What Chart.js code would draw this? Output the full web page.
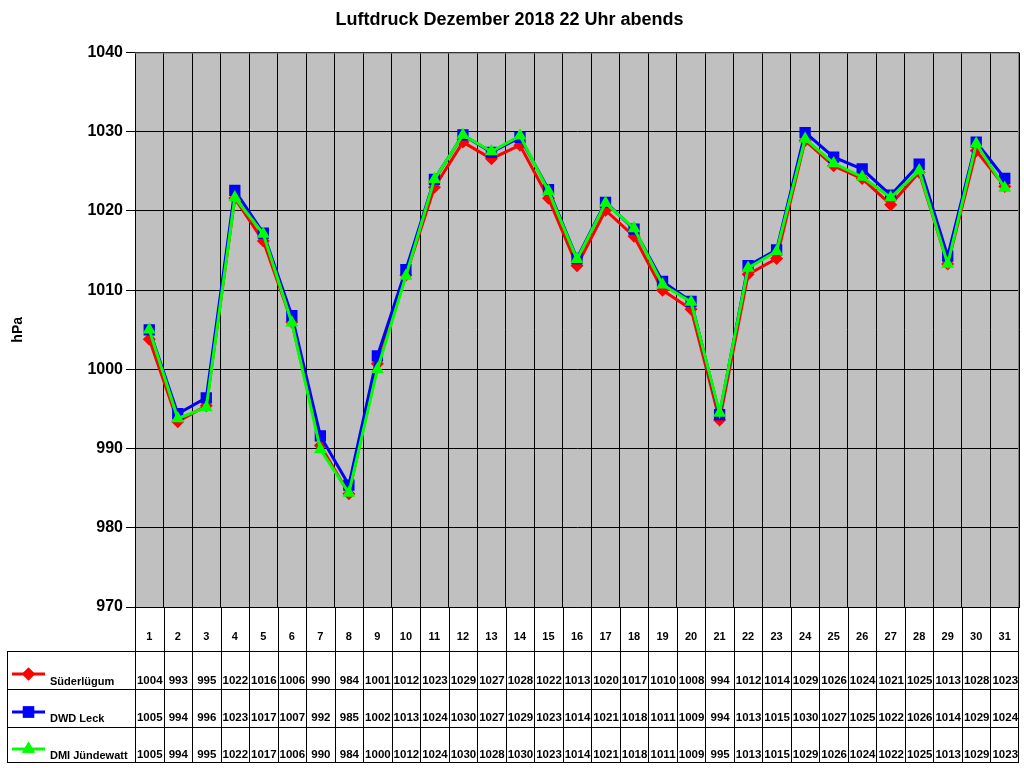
<!DOCTYPE html>
<html><head><meta charset="utf-8">
<script src="https://cdn.jsdelivr.net/npm/chart.js@4/dist/chart.umd.min.js"></script>
<style>html,body{margin:0;padding:0;background:#fff;overflow:hidden}#wrap{width:1024px;height:768px}canvas{display:block}</style>
</head><body><div id="wrap"><canvas id="c" width="1024" height="768"></canvas></div>
<script>
const days = ['1','2','3','4','5','6','7','8','9','10','11','12','13','14','15','16','17','18','19','20','21','22','23','24','25','26','27','28','29','30','31'];
const yTicks = [970,980,990,1000,1010,1020,1030,1040];
const seriesNames = ['Süderlügum','DWD Leck','DMI Jündewatt'];
// plotted values
const suederluegum = [1003.8,993.4,995.4,1021.6,1016.2,1006.0,990.4,984.3,1000.7,1011.9,1023.0,1028.7,1026.6,1028.3,1021.6,1013.1,1020.1,1016.8,1010.0,1007.6,993.6,1012.0,1014.0,1028.9,1025.7,1024.1,1020.8,1024.9,1013.3,1027.6,1023.1];
const dwdLeck = [1005.0,994.4,996.4,1022.6,1017.2,1006.8,991.6,985.4,1001.7,1012.6,1024.0,1029.6,1027.4,1029.3,1022.7,1014.0,1021.1,1017.7,1011.1,1008.6,994.3,1013.1,1015.1,1029.9,1026.8,1025.3,1022.0,1025.9,1014.3,1028.7,1024.1];
const dmiJuendewatt = [1005.0,993.8,995.2,1021.7,1017.1,1005.9,989.9,984.4,1000.0,1011.8,1024.0,1029.6,1027.5,1029.5,1022.5,1013.9,1021.0,1017.8,1010.7,1008.5,994.5,1012.8,1014.9,1029.1,1026.0,1024.3,1021.7,1025.1,1013.3,1028.5,1022.9];
// values printed in the data table
const suederluegumTable = [1004,993,995,1022,1016,1006,990,984,1001,1012,1023,1029,1027,1028,1022,1013,1020,1017,1010,1008,994,1012,1014,1029,1026,1024,1021,1025,1013,1028,1023];
const dwdLeckTable = [1005,994,996,1023,1017,1007,992,985,1002,1013,1024,1030,1027,1029,1023,1014,1021,1018,1011,1009,994,1013,1015,1030,1027,1025,1022,1026,1014,1029,1024];
const dmiJuendewattTable = [1005,994,995,1022,1017,1006,990,984,1000,1012,1024,1030,1028,1030,1023,1014,1021,1018,1011,1009,995,1013,1015,1029,1026,1024,1022,1025,1013,1029,1023];

const FONT = '"Liberation Sans", Arial, sans-serif';
const colors = ['#FF0000','#0000FF','#00FF00'];
const styles = ['rectRot','rect','triangle'];
const radii = [6.5,8,7.5];
const tableVals = [suederluegumTable, dwdLeckTable, dmiJuendewattTable];

const TABLE = {headerBottom:651, rows:[689,727,762], left:7, rowText:[681,718,755], legendY:[674,712,749], headerText:637};

const bgPlugin = {
  id:'bg',
  beforeDraw(chart){
    const {ctx, chartArea:a} = chart;
    ctx.save(); ctx.fillStyle='#C0C0C0';
    ctx.fillRect(a.left,a.top,a.right-a.left,a.bottom-a.top);
    ctx.restore();
  },
  afterDraw(chart){
    const {ctx, chartArea:a} = chart;
    const xs = chart.scales.x;
    ctx.save();
    ctx.strokeStyle='#808080'; ctx.lineWidth=1;
    ctx.beginPath(); ctx.moveTo(a.left,a.top+0.5); ctx.lineTo(a.right-0.5,a.top+0.5); ctx.lineTo(a.right-0.5,a.bottom); ctx.stroke();
    ctx.strokeStyle='#000'; ctx.lineWidth=1;
    const n = days.length;
    const w = (xs.getPixelForValue(1)-xs.getPixelForValue(0));
    const right = Math.round(a.right)-1;
    ctx.beginPath();
    for(let i=0;i<n;i++){
      const bx = Math.round(xs.getPixelForValue(0) - w/2 + i*w)+0.5;
      ctx.moveTo(bx, a.bottom); ctx.lineTo(bx, TABLE.rows[2]);
    }
    ctx.moveTo(right+0.5, a.bottom); ctx.lineTo(right+0.5, TABLE.rows[2]);
    ctx.moveTo(TABLE.left+0.5, TABLE.headerBottom); ctx.lineTo(TABLE.left+0.5, TABLE.rows[2]);
    [TABLE.headerBottom].concat(TABLE.rows).forEach(y=>{ctx.moveTo(TABLE.left, y+0.5); ctx.lineTo(right+1, y+0.5);});
    ctx.stroke();
    ctx.fillStyle='#000'; ctx.textAlign='center'; ctx.textBaseline='middle';
    ctx.font='bold 11px '+FONT;
    days.forEach((d,i)=>ctx.fillText(d, xs.getPixelForValue(i), TABLE.headerText));
    ctx.font='bold 11.5px '+FONT;
    tableVals.forEach((vals,r)=>{
      vals.forEach((v,i)=>ctx.fillText(String(v), xs.getPixelForValue(i)+0.5, TABLE.rowText[r]));
    });
    seriesNames.forEach((name,r)=>{
      const ly = TABLE.legendY[r];
      ctx.strokeStyle=colors[r]; ctx.lineWidth=3;
      ctx.beginPath(); ctx.moveTo(12,ly); ctx.lineTo(45,ly); ctx.stroke();
      ctx.fillStyle=colors[r];
      Chart.helpers.drawPoint(ctx,{pointStyle:styles[r], radius:radii[r], rotation:0, borderWidth:0}, 28.5, ly);
      ctx.fill();
      ctx.fillStyle='#000'; ctx.textAlign='left'; ctx.font='bold 11px '+FONT;
      ctx.fillText(name, 50, TABLE.rowText[r]+1);
    });
    ctx.restore();
  }
};

const data = [suederluegum, dwdLeck, dmiJuendewatt];
new Chart(document.getElementById('c'), {
  type:'line',
  data:{
    labels: days,
    datasets: data.map((d,i)=>({
      label: seriesNames[i], data: d,
      borderColor: colors[i], backgroundColor: colors[i],
      pointBackgroundColor: colors[i], pointBorderColor: colors[i], pointBorderWidth:0,
      pointStyle: styles[i], pointRadius: radii[i], pointHoverRadius: radii[i],
      borderWidth: 3, tension: 0, order: 2-i
    }))
  },
  options:{
    responsive:false, animation:false, devicePixelRatio:1,
    layout:{autoPadding:false, padding:{left:0,right:5,top:0,bottom:161}},
    plugins:{
      legend:{display:false}, tooltip:{enabled:false},
      title:{display:true, text:'Luftdruck Dezember 2018 22 Uhr abends', color:'#000',
        font:{family:FONT, size:18, weight:'bold'}, padding:{top:9,bottom:22}}
    },
    scales:{
      x:{type:'category', offset:true,
        grid:{offset:true, color:'#000', drawTicks:false, lineWidth:1},
        border:{color:'#000'},
        ticks:{display:false}},
      y:{min:970, max:1040,
        afterFit(s){ s.width = 135; },
        afterBuildTicks(s){ s.ticks = yTicks.map(v=>({value:v})); },
        grid:{color:'#000', tickLength:9, lineWidth:1},
        border:{color:'#000'},
        ticks:{color:'#000', padding:3, font:{family:FONT, size:16, weight:'bold'}, callback:(v)=>String(v)},
        title:{display:true, text:'hPa', color:'#000', font:{family:FONT, size:14, weight:'bold'}, padding:{top:10,bottom:0}}
      }
    }
  },
  plugins:[bgPlugin]
});
</script></body></html>
